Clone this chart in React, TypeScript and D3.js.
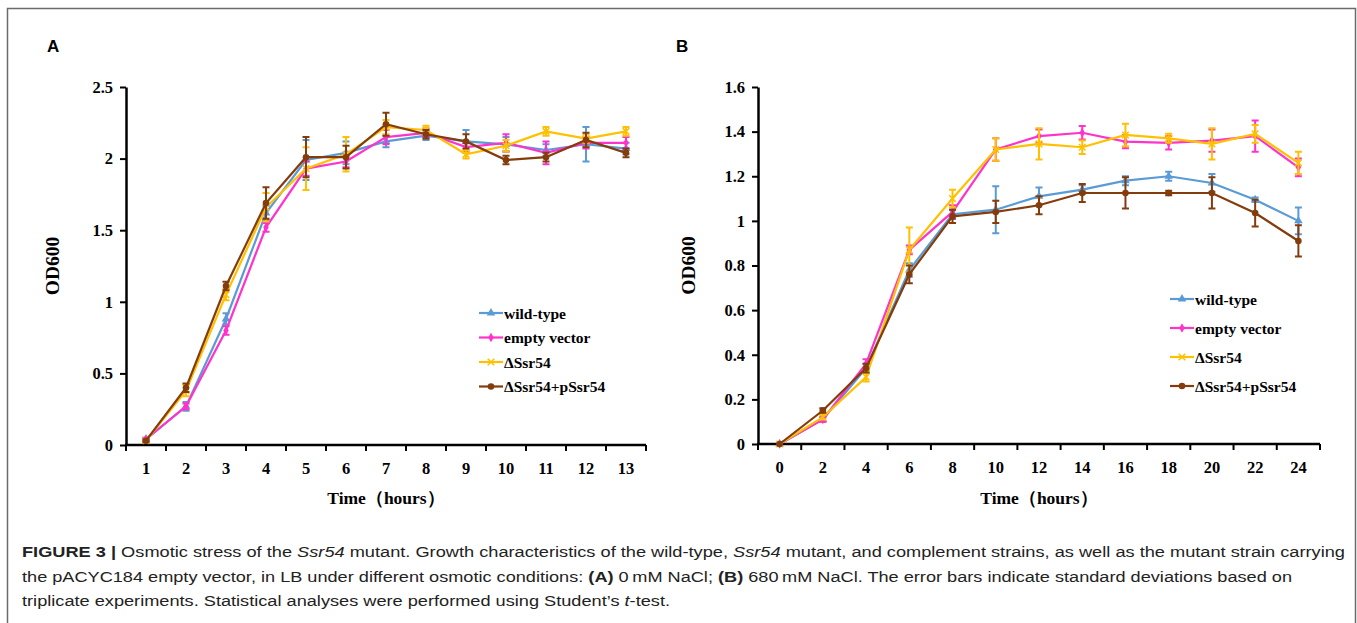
import React, { useRef, useEffect } from "react";
import * as d3 from "d3";

// series names + colours
const seriesNames = ["wild-type", "empty vector", "\u0394Ssr54", "\u0394Ssr54+pSsr54"];
const seriesColors = ["#5B9BD5", "#FF33CC", "#FFC000", "#843C0C"];

// panel A: 0 mM NaCl
const hoursA = [1, 2, 3, 4, 5, 6, 7, 8, 9, 10, 11, 12, 13];
const wildA = [0.04, 0.27, 0.88, 1.62, 1.99, 2.04, 2.12, 2.16, 2.12, 2.1, 2.06, 2.1, 2.07];
const emptyA = [0.04, 0.27, 0.8, 1.52, 1.93, 1.98, 2.15, 2.18, 2.08, 2.11, 2.04, 2.11, 2.11];
const mutA = [0.03, 0.38, 1.05, 1.66, 1.93, 2.03, 2.22, 2.2, 2.03, 2.09, 2.19, 2.14, 2.19];
const compA = [0.03, 0.4, 1.11, 1.69, 2.01, 2.01, 2.24, 2.17, 2.12, 1.99, 2.01, 2.13, 2.04];
const wildAErr = [0.01, 0.03, 0.04, 0.05, 0.14, 0.08, 0.04, 0.03, 0.08, 0.05, 0.04, 0.12, 0.04];
const emptyAErr = [0.01, 0.02, 0.03, 0.03, 0.05, 0.04, 0.05, 0.03, 0.03, 0.06, 0.08, 0.04, 0.04];
const mutAErr = [0.01, 0.04, 0.04, 0.1, 0.15, 0.12, 0.05, 0.03, 0.03, 0.04, 0.03, 0.03, 0.03];
const compAErr = [0.01, 0.03, 0.03, 0.11, 0.14, 0.08, 0.08, 0.03, 0.05, 0.03, 0.03, 0.05, 0.03];
const yTicksA = [0, 0.5, 1, 1.5, 2, 2.5];

// panel B: 680 mM NaCl
const hoursB = [0, 2, 4, 6, 8, 10, 12, 14, 16, 18, 20, 22, 24];
const wildB = [0, 0.11, 0.34, 0.78, 1.03, 1.05, 1.11, 1.14, 1.18, 1.2, 1.17, 1.095, 1.0];
const emptyB = [0, 0.11, 0.36, 0.87, 1.04, 1.32, 1.38, 1.395, 1.355, 1.35, 1.36, 1.38, 1.24];
const mutB = [0, 0.12, 0.3, 0.87, 1.1, 1.32, 1.345, 1.33, 1.385, 1.37, 1.345, 1.39, 1.26];
const compB = [0, 0.15, 0.34, 0.76, 1.02, 1.04, 1.07, 1.125, 1.125, 1.125, 1.125, 1.035, 0.91];
const wildBErr = [0, 0.01, 0.02, 0.03, 0.02, 0.105, 0.04, 0.02, 0.02, 0.02, 0.04, 0.01, 0.06];
const emptyBErr = [0, 0.01, 0.02, 0.02, 0.03, 0.05, 0.03, 0.03, 0.03, 0.03, 0.05, 0.07, 0.04];
const mutBErr = [0, 0.01, 0.02, 0.1, 0.04, 0.05, 0.07, 0.03, 0.05, 0.02, 0.07, 0.04, 0.05];
const compBErr = [0, 0.01, 0.02, 0.04, 0.03, 0.05, 0.04, 0.04, 0.07, 0.01, 0.07, 0.06, 0.07];
const yTicksB = [0, 0.2, 0.4, 0.6, 0.8, 1, 1.2, 1.4, 1.6];

const captionLines = [
  ["Osmotic stress of the ", ["Ssr54", "i"], " mutant. Growth characteristics of the wild-type, ", ["Ssr54", "i"], " mutant, and complement strains, as well as the mutant strain carrying"],
  ["the pACYC184 empty vector, in LB under different osmotic conditions: ", ["(A)", "b"], " 0\u2009mM NaCl; ", ["(B)", "b"], " 680\u2009mM NaCl. The error bars indicate standard deviations based on"],
  ["triplicate experiments. Statistical analyses were performed using Student\u2019s ", ["t", "i"], "-test."],
];

const SERIF = "'Liberation Serif', 'Times New Roman', serif";
const SANS = "'Liberation Sans', Arial, sans-serif";

function drawPanel(svg, cfg) {
  const { hours, series, errs, yTicks, yMax, x0, x1, yTop, yBot, letter, letterX, legendX, legendY, legendStep, yTitleX } = cfg;
  const g = svg.append("g");

  const x = d3.scaleBand().domain(hours.map(String)).range([x0, x1]).padding(0);
  const y = d3.scaleLinear().domain([0, yMax]).range([yBot, yTop]);
  const cx = (h) => x(String(h)) + x.bandwidth() / 2;

  // panel letter
  g.append("text").attr("x", letterX).attr("y", 52)
    .attr("font-family", SANS).attr("font-weight", "bold").attr("font-size", 17)
    .text(letter);

  // y axis
  const yAxis = g.append("g").attr("transform", `translate(${x0},0)`)
    .call(d3.axisLeft(y).tickValues(yTicks).tickSize(6).tickSizeOuter(0).tickFormat(d3.format("")));
  yAxis.select(".domain").attr("stroke", "#000").attr("stroke-width", 2.5);
  yAxis.selectAll(".tick line").attr("stroke", "#000").attr("stroke-width", 2);
  yAxis.selectAll(".tick text").attr("font-family", SERIF).attr("font-weight", "bold")
    .attr("font-size", 16.5).attr("fill", "#000").attr("x", -13);

  // x axis: line + tick marks between categories
  g.append("line").attr("x1", x0 - 1).attr("x2", x1).attr("y1", yBot).attr("y2", yBot)
    .attr("stroke", "#000").attr("stroke-width", 2.5);
  const bounds = hours.map((h) => x(String(h))).concat([x1]);
  g.selectAll(".xt").data(bounds).enter().append("line")
    .attr("x1", (d) => d).attr("x2", (d) => d).attr("y1", yBot).attr("y2", yBot + 6)
    .attr("stroke", "#000").attr("stroke-width", 2);
  g.selectAll(".xl").data(hours).enter().append("text")
    .attr("x", (d) => cx(d)).attr("y", yBot + 29).attr("text-anchor", "middle")
    .attr("font-family", SERIF).attr("font-weight", "bold").attr("font-size", 16.5)
    .text((d) => d);

  // axis titles
  g.append("text").attr("x", (x0 + x1) / 2).attr("y", 504).attr("text-anchor", "middle")
    .attr("font-family", SERIF).attr("font-weight", "bold").attr("font-size", 17.5)
    .text("Time\uFF08hours\uFF09");
  g.append("text").attr("transform", `translate(${yTitleX},${(yTop + yBot) / 2}) rotate(-90)`)
    .attr("text-anchor", "middle").attr("font-family", SERIF).attr("font-weight", "bold").attr("font-size", 19.5)
    .text("OD600");

  const symbols = [d3.symbolTriangle, d3.symbolDiamond, d3.symbolX, d3.symbolCircle];
  const symSizes = [32, 26, 30, 34];
  const marker = (sel, i) => {
    const p = sel.append("path").attr("d", d3.symbol().type(symbols[i]).size(symSizes[i])());
    if (i === 2) p.attr("fill", "none").attr("stroke", seriesColors[i]).attr("stroke-width", 1.5);
    else p.attr("fill", seriesColors[i]);
    return p;
  };

  const line = d3.line().x((d) => cx(d.h)).y((d) => y(d.v));

  series.forEach((vals, i) => {
    const pts = hours.map((h, k) => ({ h, v: vals[k], e: errs[i][k] }));
    const sg = g.append("g");
    // error bars
    pts.filter((d) => d.e > 0).forEach((d) => {
      const xx = cx(d.h);
      sg.append("path")
        .attr("d", `M${xx},${y(d.v - d.e)}V${y(d.v + d.e)}M${xx - 3.5},${y(d.v - d.e)}H${xx + 3.5}M${xx - 3.5},${y(d.v + d.e)}H${xx + 3.5}`)
        .attr("stroke", seriesColors[i]).attr("stroke-width", 2).attr("fill", "none");
    });
    sg.append("path").datum(pts).attr("d", line)
      .attr("fill", "none").attr("stroke", seriesColors[i]).attr("stroke-width", 2.2);
    pts.forEach((d) => {
      marker(sg, i).attr("transform", `translate(${cx(d.h)},${y(d.v)})`);
    });
  });

  // legend
  seriesNames.forEach((name, i) => {
    const ly = legendY + i * legendStep;
    const lg = g.append("g");
    lg.append("line").attr("x1", legendX).attr("x2", legendX + 24).attr("y1", ly).attr("y2", ly)
      .attr("stroke", seriesColors[i]).attr("stroke-width", 2.2);
    marker(lg, i).attr("transform", `translate(${legendX + 12},${ly})`);
    lg.append("text").attr("x", legendX + 25).attr("y", ly + 5.5)
      .attr("font-family", SERIF).attr("font-weight", "bold").attr("font-size", 15.5)
      .text(name);
  });
}

export default function App() {
  const svgRef = useRef(null);

  useEffect(() => {
    const width = 1357;
    const height = 623;
    const svg = d3.select(svgRef.current).attr("width", width).attr("height", height);
    svg.selectAll("*").remove();

    svg.append("rect").attr("width", width).attr("height", height).attr("fill", "#fff");
    // frame (open at the bottom)
    svg.append("path").attr("d", `M7.5,${height}V8.5H1355.5V${height}`)
      .attr("fill", "none").attr("stroke", "#6b6b6b").attr("stroke-width", 1.5);

    drawPanel(svg, {
      hours: hoursA,
      series: [wildA, emptyA, mutA, compA],
      errs: [wildAErr, emptyAErr, mutAErr, compAErr],
      yTicks: yTicksA, yMax: 2.5,
      x0: 126, x1: 646, yTop: 87, yBot: 445,
      letter: "A", letterX: 47,
      legendX: 479, legendY: 313, legendStep: 24.5,
      yTitleX: 59,
    });
    drawPanel(svg, {
      hours: hoursB,
      series: [wildB, emptyB, mutB, compB],
      errs: [wildBErr, emptyBErr, mutBErr, compBErr],
      yTicks: yTicksB, yMax: 1.6,
      x0: 758, x1: 1320, yTop: 87, yBot: 444,
      letter: "B", letterX: 676,
      legendX: 1170, legendY: 299, legendStep: 29,
      yTitleX: 695,
    });

    // caption
    const capY = [557, 582, 606];
    const capLen = [1323, 1270, 648];
    captionLines.forEach((parts, li) => {
      const t = svg.append("text").attr("x", 22).attr("y", capY[li])
        .attr("font-family", SANS).attr("font-size", 15.5).attr("fill", "#222")
        .attr("textLength", capLen[li]).attr("lengthAdjust", "spacingAndGlyphs");
      if (li === 0) {
        t.append("tspan").attr("font-weight", "bold").text("FIGURE 3 | ");
      }
      parts.forEach((p) => {
        if (typeof p === "string") t.append("tspan").text(p);
        else {
          const s = t.append("tspan").text(p[0]);
          if (p[1] === "i") s.attr("font-style", "italic");
          else s.attr("font-weight", "bold");
        }
      });
    });
  }, []);

  return <svg ref={svgRef} style={{ position: "absolute", left: 0, top: 0, display: "block" }}></svg>;
}
